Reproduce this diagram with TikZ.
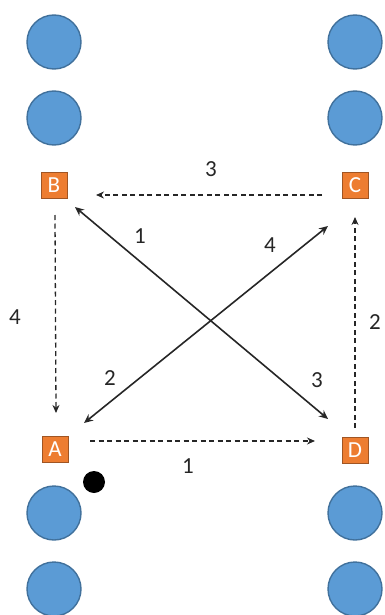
\documentclass[tikz,border=0pt]{standalone}
\usepackage{fontspec}
\setmainfont{Carlito}
\usetikzlibrary{arrows.meta,calc}
\definecolor{cfill}{RGB}{91,155,213}
\definecolor{cdraw}{RGB}{65,113,156}
\definecolor{sfill}{RGB}{237,125,49}
\definecolor{sdraw}{RGB}{160,85,35}
\definecolor{ink}{RGB}{38,38,38}
\tikzset{
  seat/.style={circle,fill=cfill,draw=cdraw,line width=1.4pt,minimum size=54pt,inner sep=0pt},
  spot/.style={rectangle,fill=sfill,draw=sdraw,line width=1pt,minimum size=26pt,inner sep=0pt,text=white,font=\fontsize{23}{23}\selectfont},
  ball/.style={circle,fill=black,minimum size=22pt,inner sep=0pt},
  num/.style={text=ink,font=\fontsize{23}{23}\selectfont,inner sep=0pt},
  solidarrow/.style={draw=ink,line width=1.6pt,{Stealth[length=9pt,width=8pt]}-{Stealth[length=9pt,width=8pt]}},
  dasharrow/.style={draw=ink,line width=1.3pt,dash pattern=on 5pt off 3.5pt,-{Stealth[length=8pt,width=7pt]}}
}
\begin{document}
\begin{tikzpicture}[x=1pt,y=-1pt]
\useasboundingbox (0,0) rectangle (384,615);
% seats
\node[seat] (L1) at (54,42) {};
\node[seat] (L2) at (54,118) {};
\node[seat] (L3) at (54,513) {};
\node[seat] (L4) at (54,589) {};
\node[seat] (R1) at (355,42) {};
\node[seat] (R2) at (355,118) {};
\node[seat] (R3) at (355,513) {};
\node[seat] (R4) at (355,589) {};
% spots
\node[spot] (B) at (54,185) {B};
\node[spot] (C) at (355,185) {C};
\node[spot] (A) at (55,449) {A};
\node[spot] (D) at (355,450) {D};
\node[ball] (dot) at (94,482) {};
% connector end points
\coordinate (Bx) at ($(B)+(21,22)$);
\coordinate (Dx) at ($(D)+(-27,-31)$);
\coordinate (Ax) at ($(A)+(29,-26)$);
\coordinate (Cx) at ($(C)+(-27,41)$);
\coordinate (Cb) at ($(C)+(-33,10)$);
\coordinate (Bc) at ($(B)+(42,10)$);
\coordinate (Ba) at ($(B)+(1,30)$);
\coordinate (Ab) at ($(A)+(1,-36)$);
\coordinate (Ad) at ($(A)+(35,-8)$);
\coordinate (Da) at ($(D)+(-40,-9)$);
\coordinate (Dc) at ($(D)+(0,-22)$);
\coordinate (Cd) at ($(C)+(0,32)$);
% solid crossing arrows
\draw[solidarrow] (Bx) -- (Dx);
\draw[solidarrow] (Ax) -- (Cx);
% dashed arrows
\draw[dasharrow] (Cb) -- (Bc);
\draw[dasharrow] (Ba) -- (Ab);
\draw[dasharrow] (Ad) -- (Da);
\draw[dasharrow] (Dc) -- (Cd);
% labels
\node[num] (n3t) at (211,169) {3};
\node[num] (n4l) at (15,317) {4};
\node[num] (n2r) at (375,322) {2};
\node[num] (n1b) at (188,466) {1};
\node[num] (n1x) at (140,236) {1};
\node[num] (n4x) at (270,245) {4};
\node[num] (n2x) at (110,378) {2};
\node[num] (n3x) at (317,380) {3};
\end{tikzpicture}
\end{document}
